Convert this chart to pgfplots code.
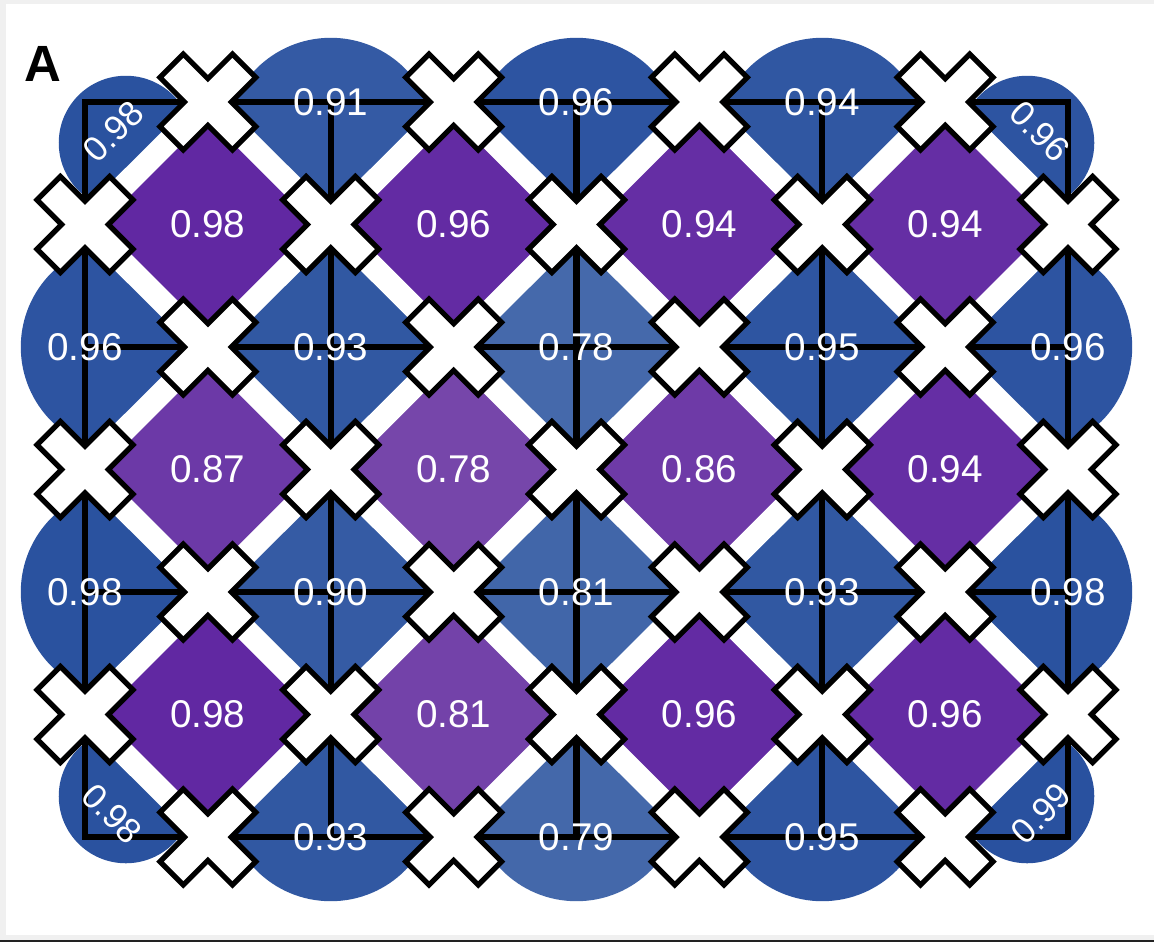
\documentclass[border=0pt]{standalone}
\usepackage{pgfplots}
\pgfplotsset{compat=1.18}
\usepackage{fontspec}
\setmainfont{Liberation Sans}

\definecolor{framegrey}{RGB}{240,240,240}
\definecolor{framedark}{RGB}{34,34,34}

\pgfplotsset{
  colormap={vertexblue}{rgb255=(69,105,171) rgb255=(41,81,159)},
  colormap={cellpurple}{rgb255=(118,70,170) rgb255=(96,39,162)},
  board/.style={
    x=2.4575cm, y=2.45cm,
    xmin=-0.34588, xmax=4.34995,
    ymin=-0.42857, ymax=3.41633,
    hide axis, clip=false,
    point meta min=0.78, point meta max=0.99,
  },
  lobe/.style={scatter, only marks, scatter src=explicit,
    scatter/use mapped color={draw=mapped color, fill=mapped color}},
  lab/.style={draw=none, mark=none, point meta=explicit symbolic,
    nodes near coords, nodes near coords align=center,
    every node near coord/.append style={text=white, inner sep=0pt, anchor=center}},
}

% tile half diagonal, centroid offset of a half tile
\def\hd{34.9pt}
\def\hdt{11.63pt}
% arm length and half width of the x marks
\def\xl{14.6pt}
\def\xw{4.7pt}

\pgfdeclareplotmark{tile}{%
  \pgfpathmoveto{\pgfqpoint{0pt}{\hd}}%
  \pgfpathlineto{\pgfqpoint{\hd}{0pt}}%
  \pgfpathlineto{\pgfqpoint{0pt}{-\hd}}%
  \pgfpathlineto{\pgfqpoint{-\hd}{0pt}}%
  \pgfpathclose\pgfusepathqfill}

\pgfdeclareplotmark{edgelobe}{%
  \pgfscope\pgftransformrotate{\rot}%
  \pgfpathcircle{\pgfqpoint{0pt}{-\hdt}}{29.9pt}\pgfusepathqfill
  \pgfpathmoveto{\pgfqpoint{-\hd}{0pt}}%
  \pgfpathlineto{\pgfqpoint{\hd}{0pt}}%
  \pgfpathlineto{\pgfqpoint{0pt}{-\hd}}%
  \pgfpathclose\pgfusepathqfill
  \endpgfscope}

\pgfdeclareplotmark{cornerlobe}{%
  \pgfscope\pgftransformrotate{\rot}%
  \pgfpathcircle{\pgfqpoint{\hdt}{-\hdt}}{19.1pt}\pgfusepathqfill
  \pgfpathmoveto{\pgfqpoint{0pt}{0pt}}%
  \pgfpathlineto{\pgfqpoint{\hd}{0pt}}%
  \pgfpathlineto{\pgfqpoint{0pt}{-\hd}}%
  \pgfpathclose\pgfusepathqfill
  \endpgfscope}

\pgfdeclareplotmark{bigx}{%
  \pgfscope\pgftransformrotate{45}%
  \pgfpathmoveto{\pgfqpoint{\xw}{\xw}}%
  \pgfpathlineto{\pgfqpoint{\xw}{\xl}}%
  \pgfpathlineto{\pgfqpoint{-\xw}{\xl}}%
  \pgfpathlineto{\pgfqpoint{-\xw}{\xw}}%
  \pgfpathlineto{\pgfqpoint{-\xl}{\xw}}%
  \pgfpathlineto{\pgfqpoint{-\xl}{-\xw}}%
  \pgfpathlineto{\pgfqpoint{-\xw}{-\xw}}%
  \pgfpathlineto{\pgfqpoint{-\xw}{-\xl}}%
  \pgfpathlineto{\pgfqpoint{\xw}{-\xl}}%
  \pgfpathlineto{\pgfqpoint{\xw}{-\xw}}%
  \pgfpathlineto{\pgfqpoint{\xl}{-\xw}}%
  \pgfpathlineto{\pgfqpoint{\xl}{\xw}}%
  \pgfpathclose\pgfusepathqfillstroke
  \endpgfscope}

% boundary vertices (rot gives the side the grid lies on)
\pgfplotstableread{
x y v rot
1 3 0.91 0
2 3 0.96 0
3 3 0.94 0
1 0 0.93 180
2 0 0.79 180
3 0 0.95 180
0 2 0.96 90
0 1 0.98 90
4 2 0.96 -90
4 1 0.98 -90
}\edgetab

\pgfplotstableread{
x y v rot
0 3 0.98 0
4 3 0.96 -90
4 0 0.99 180
0 0 0.98 90
}\cornertab

\pgfplotstableread{
x y v
1 2 0.93
2 2 0.78
3 2 0.95
1 1 0.90
2 1 0.81
3 1 0.93
}\innertab

\pgfplotstableread{
x y v
0.5 2.5 0.98
1.5 2.5 0.96
2.5 2.5 0.94
3.5 2.5 0.94
0.5 1.5 0.87
1.5 1.5 0.78
2.5 1.5 0.86
3.5 1.5 0.94
0.5 0.5 0.98
1.5 0.5 0.81
2.5 0.5 0.96
3.5 0.5 0.96
}\celltab

% corner labels, set inward from the corner
\pgfplotstableread{
x y v
0.115 2.88 0.98
3.89 0.095 0.99
}\cornerup

\pgfplotstableread{
x y v
3.885 2.88 0.96
0.11 0.095 0.98
}\cornerdown

\begin{document}
\begin{tikzpicture}
% tiles
\begin{axis}[board]
\fill[framegrey] (rel axis cs:0,0) rectangle (rel axis cs:1,1);
\fill[white] (axis cs:-0.32146,-0.4) rectangle (axis cs:4.34995,3.4);
\fill[framedark] (axis cs:-0.34588,-0.42857) rectangle (axis cs:4.34995,-0.41837);

\addplot[lobe, colormap name=vertexblue, mark=edgelobe,
  visualization depends on={\thisrow{rot}\as\rot}] table[meta=v] {\edgetab};
\addplot[lobe, colormap name=vertexblue, mark=cornerlobe,
  visualization depends on={\thisrow{rot}\as\rot}] table[meta=v] {\cornertab};
\addplot[lobe, colormap name=vertexblue, mark=tile] table[meta=v] {\innertab};
\addplot[lobe, colormap name=cellpurple, mark=tile] table[meta=v] {\celltab};
\end{axis}

% gaps, lattice, qubits and values on top
\begin{axis}[board]
\addplot[white, line width=6.5pt, unbounded coords=jump] table {
x y
0 2.5
0.5 3
nan nan
0 1.5
1.5 3
nan nan
0 0.5
2.5 3
nan nan
0.5 0
3.5 3
nan nan
1.5 0
4 2.5
nan nan
2.5 0
4 1.5
nan nan
3.5 0
4 0.5
nan nan
0 0.5
0.5 0
nan nan
0 1.5
1.5 0
nan nan
0 2.5
2.5 0
nan nan
0.5 3
3.5 0
nan nan
1.5 3
4 0.5
nan nan
2.5 3
4 1.5
nan nan
3.5 3
4 2.5
};

\addplot[black, line width=1.8pt, line cap=rect, unbounded coords=jump] table {
x y
0 0
4 0
4 3
0 3
0 0
nan nan
1 0
1 3
nan nan
2 0
2 3
nan nan
3 0
3 3
nan nan
0 1
4 1
nan nan
0 2
4 2
};

\addplot[only marks, mark=bigx,
  mark options={solid, fill=white, draw=black, line width=1.5pt}] table {
x y
0.5 0
1.5 0
2.5 0
3.5 0
0.5 1
1.5 1
2.5 1
3.5 1
0.5 2
1.5 2
2.5 2
3.5 2
0.5 3
1.5 3
2.5 3
3.5 3
0 0.5
1 0.5
2 0.5
3 0.5
4 0.5
0 1.5
1 1.5
2 1.5
3 1.5
4 1.5
0 2.5
1 2.5
2 2.5
3 2.5
4 2.5
};

\addplot[lab, every node near coord/.append style={font=\fontsize{11}{13}\selectfont}]
  table[meta=v] {\edgetab};
\addplot[lab, every node near coord/.append style={font=\fontsize{11}{13}\selectfont}]
  table[meta=v] {\innertab};
\addplot[lab, every node near coord/.append style={font=\fontsize{11}{13}\selectfont}]
  table[meta=v] {\celltab};
\addplot[lab, every node near coord/.append style={font=\fontsize{10}{12}\selectfont, rotate=45}]
  table[meta=v] {\cornerup};
\addplot[lab, every node near coord/.append style={font=\fontsize{10}{12}\selectfont, rotate=-45}]
  table[meta=v] {\cornerdown};

\node[font=\bfseries\fontsize{14.5}{17}\selectfont, inner sep=0pt]
  at (axis cs:-0.173,3.157) {A};
\end{axis}
\end{tikzpicture}
\end{document}
